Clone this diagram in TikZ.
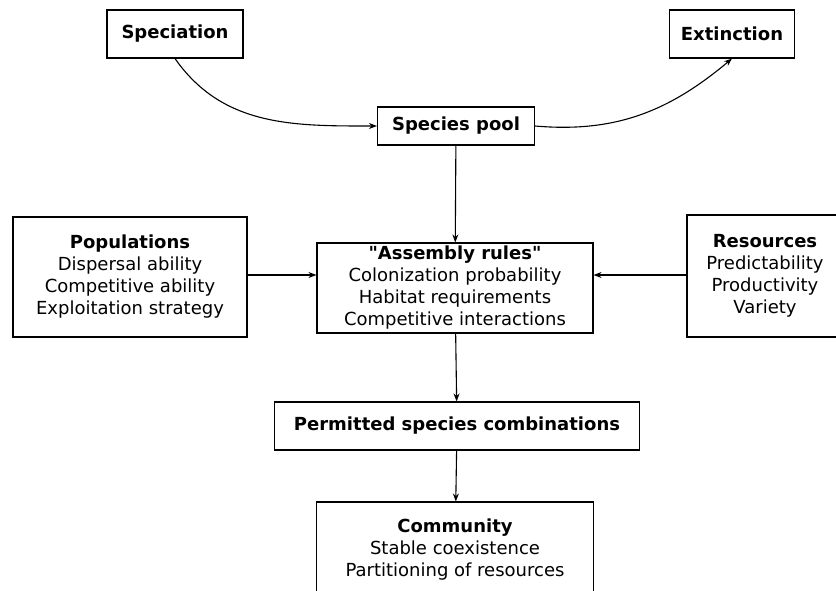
\documentclass[tikz,border=0pt]{standalone}
\usepackage{fontspec}
\setmainfont{DejaVu Sans}
\usetikzlibrary{positioning, arrows.meta}

\begin{document}
\begin{tikzpicture}[
  x=1pt, y=-1pt,
  font=\fontsize{18}{22}\selectfont,
  stepbox/.style={draw, line width=1.1pt, align=center, inner sep=3pt},
  headbox/.style={stepbox, font=\fontsize{18}{22}\selectfont\bfseries},
  flow/.style={-{Stealth[length=8pt, width=6pt]}, line width=1.1pt}
]
\useasboundingbox (0,0) rectangle (836,591);
% top row
\node[headbox, minimum width=136pt, minimum height=48pt] (spec) at (175,34) {Speciation};
\node[headbox, minimum width=125pt, minimum height=48pt] (ext) at (732,34) {Extinction};
\node[headbox, minimum width=157pt, minimum height=38pt] (pool) at (456,126) {Species pool};
% middle row
\node[stepbox, minimum width=276pt, minimum height=90pt] (rules) at (455,288)
  {\textbf{\textquotedbl Assembly rules\textquotedbl}\\Colonization probability\\Habitat requirements\\Competitive interactions};
\node[stepbox, minimum width=234pt, minimum height=120pt] (pops) at (130,277)
  {\textbf{Populations}\\Dispersal ability\\Competitive ability\\Exploitation strategy};
\node[stepbox, minimum width=156pt, minimum height=122pt] (res) at (765,276)
  {\textbf{Resources}\\Predictability\\Productivity\\Variety};
% bottom
\node[headbox, minimum width=365pt, minimum height=48pt] (perm) at (457,426) {Permitted species combinations};
\node[stepbox, minimum width=277pt, minimum height=96pt] (comm) at (455,550)
  {\textbf{Community}\\Stable coexistence\\Partitioning of resources};

\draw[flow] (spec.south) to[out=-55, in=180] (pool.west);
\draw[flow] (pool.east) to[out=-5, in=-140] (ext.south);
\draw[flow] (pool) -- (rules);
\draw[flow] (pops.east |- 0,275) -- (rules.west |- 0,275);
\draw[flow] (res.west |- 0,275) -- (rules.east |- 0,275);
\draw[flow] (rules) -- (perm);
\draw[flow] (perm) -- (comm);
\end{tikzpicture}
\end{document}
